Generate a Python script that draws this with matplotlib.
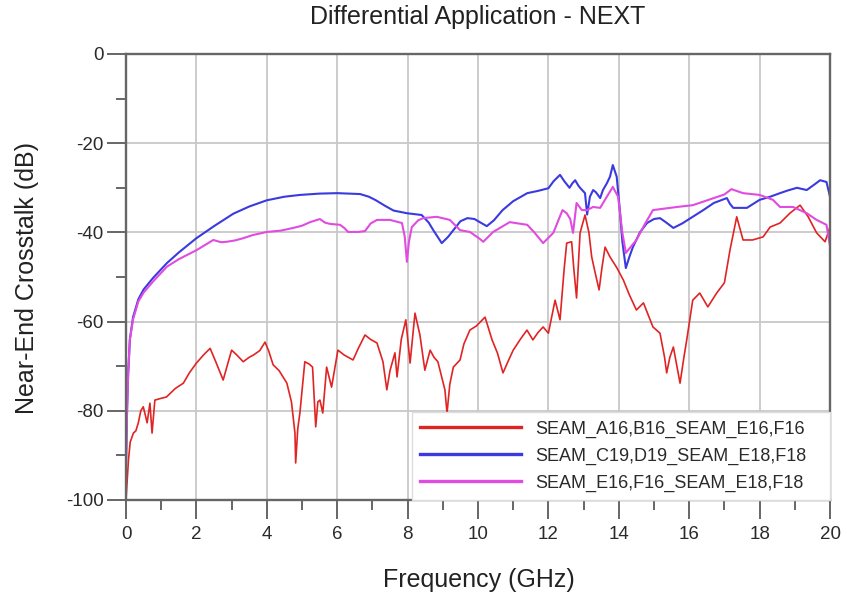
import numpy as np
import matplotlib
matplotlib.use('Agg')
import matplotlib.pyplot as plt

plt.rcParams['font.family'] = ['Liberation Sans', 'DejaVu Sans']
plt.rcParams['axes.unicode_minus'] = False

# (GHz, dB)
red_f = [0.0, 0.03, 0.07, 0.12, 0.21, 0.28, 0.35, 0.42, 0.49, 0.55, 0.6, 0.68, 0.74, 0.82, 1.0, 1.15,
         1.4, 1.63, 1.8, 2.0, 2.2, 2.39, 2.55, 2.76, 3.0, 3.15, 3.33, 3.5, 3.62, 3.8, 3.95, 4.05,
         4.18, 4.35, 4.57, 4.7, 4.8, 4.82, 4.88, 4.94, 5.08, 5.2, 5.3, 5.39, 5.45, 5.51, 5.59, 5.7,
         5.84, 6.02, 6.2, 6.45, 6.6, 6.79, 6.95, 7.13, 7.3, 7.41, 7.5, 7.64, 7.7, 7.82, 7.95, 8.07,
         8.21, 8.35, 8.49, 8.64, 8.75, 8.86, 9.06, 9.12, 9.2, 9.3, 9.49, 9.6, 9.77, 9.95, 10.2, 10.4,
         10.55, 10.71, 10.85, 11.0, 11.2, 11.39, 11.56, 11.7, 11.85, 12.0, 12.19, 12.33, 12.45, 12.52,
         12.66, 12.72, 12.8, 12.9, 13.04, 13.15, 13.23, 13.33, 13.44, 13.52, 13.61, 13.75, 13.95, 14.13,
         14.3, 14.5, 14.7, 14.97, 15.17, 15.3, 15.36, 15.45, 15.55, 15.65, 15.74, 15.85, 15.93, 16.1,
         16.3, 16.53, 16.78, 17.0, 17.16, 17.35, 17.53, 17.8, 18.1, 18.3, 18.58, 18.86, 19.15, 19.38,
         19.62, 19.86, 20.0]
red_db = [-100, -96, -91, -87, -85, -84.5, -82.7, -80, -79.1, -81, -82.7, -78.3, -85, -77.6, -77.2, -76.9,
          -75, -73.8, -71.5, -69.3, -67.5, -66, -69, -73.1, -66.4, -67.5, -69, -68, -67.5, -66.5, -64.6, -66.5,
          -69.7, -71, -73.8, -78, -85, -91.7, -84, -80.5, -69, -69.5, -70.2, -83.6, -78, -77.6, -80.5, -70.2,
          -74.7, -66.4, -67.5, -68.6, -66, -63, -64, -64.8, -69, -75.3, -71, -67, -72.4, -64, -59.6, -69.3,
          -58.1, -63, -70.9, -66.4, -68, -69, -75.3, -80.5, -74, -70.2, -68.6, -65, -61.9, -61, -59, -64.1,
          -67, -71.5, -69, -66.4, -64, -61.9, -64.1, -62.5, -61.2, -62.6, -55.2, -59.6, -48, -42.4,
          -42.1, -48, -54.7, -40.1, -36.1, -40, -45.5, -49.1, -52.9, -48, -43.3, -45.5, -48, -50.7,
          -54, -57.4, -55.8, -61.2, -62.6, -68, -71.5, -68, -65.7, -70, -73.8, -68, -64.1, -55.2,
          -53.6, -56.7, -53.6, -51.3, -43.9, -36.5, -41.7, -41.7, -41.0, -38.8, -37.9, -35.7, -33.9, -36.5,
          -40.1, -42.1, -38.8]

blue_f = [0.0, 0.03, 0.06, 0.11, 0.2, 0.35, 0.5, 0.77, 1.16, 1.5, 2.0, 2.5, 3.05, 3.5, 4.0, 4.5, 4.94,
          5.5, 6.0, 6.65, 6.9, 7.1, 7.35, 7.6, 7.98, 8.4, 8.6, 8.73, 8.97, 9.15, 9.3, 9.5, 9.7, 9.9,
          10.05, 10.25, 10.45, 10.7, 11.0, 11.4, 11.7, 12.0, 12.15, 12.33, 12.45, 12.6, 12.68, 12.76,
          12.85, 12.9, 13.04, 13.1, 13.18, 13.27, 13.35, 13.47, 13.55, 13.66, 13.75, 13.83, 13.94, 14.03,
          14.1, 14.2, 14.3, 14.4, 14.6, 14.8, 15.0, 15.17, 15.35, 15.55, 15.8, 16.1, 16.4, 16.7, 17.07,
          17.15, 17.25, 17.64, 18.0, 18.3, 18.58, 18.8, 19.06, 19.34, 19.55, 19.72, 19.9, 20.0]
blue_db = [-92, -80, -72, -64, -59, -55, -52.8, -50.2, -46.9, -44.5, -41.3, -38.6, -35.8, -34.2, -32.8, -32.0, -31.6,
           -31.3, -31.2, -31.4, -32.0, -32.8, -34, -35.1, -35.7, -36.1, -37.8, -39.5, -42.4, -41, -39.5, -37.5, -36.8, -37,
           -37.7, -38.6, -37.3, -35, -33, -31.2, -30.7, -30.1, -28.5, -27.1, -28.5, -30, -29, -28.3,
           -29.5, -30, -31.2, -36, -32, -30.5, -31, -32.3, -30.5, -29, -27.5, -24.9, -27.5, -35,
           -42, -48, -45.5, -43.3, -40, -37.9, -37, -36.8, -37.8, -39, -38, -36.5, -35, -33.4, -32.3,
           -33.5, -34.5, -34.5, -32.7, -32, -31.2, -30.6, -30, -30.5, -29.3, -28.3, -28.7, -32]

mag_f = [0.0, 0.03, 0.06, 0.11, 0.2, 0.35, 0.5, 0.77, 1.16, 1.5, 2.0, 2.25, 2.48, 2.7, 2.86, 3.1, 3.33,
         3.6, 4.0, 4.4, 4.75, 5.0, 5.23, 5.51, 5.65, 5.8, 6.08, 6.2, 6.31, 6.6, 6.79, 6.95, 7.13, 7.5,
         7.84, 7.92, 7.98, 8.04, 8.12, 8.3, 8.44, 8.83, 9.2, 9.49, 9.77, 10.06, 10.15, 10.43, 10.9, 11.4,
         11.6, 11.85, 12.14, 12.4, 12.52, 12.62, 12.7, 12.8, 12.95, 13.1, 13.27, 13.47, 13.66, 13.83,
         13.98, 14.1, 14.2, 14.5, 14.75, 14.97, 15.65, 16.1, 16.7, 17.0, 17.2, 17.53, 18.0, 18.38, 18.58,
         18.95, 19.34, 19.62, 19.9, 20.0]
mag_db = [-92, -80, -72, -64, -59.5, -55.5, -53.5, -51, -47.7, -46, -44, -42.8, -41.7, -42.2, -42.1, -41.8, -41.3,
          -40.6, -39.9, -39.6, -39.0, -38.5, -37.7, -37.0, -37.8, -38.1, -38.3, -39, -39.9, -39.9, -39.7, -38, -37.2, -37.2,
          -37.9, -41, -46.6, -42, -38.8, -37.3, -36.8, -36.5, -37.2, -39.5, -39.9, -41.5, -42.1, -39.9, -37.7, -38.3,
          -40, -42.4, -40.1, -35, -35.7, -37, -40.1, -33.4, -35, -35, -34.3, -34.5, -32, -29.8,
          -32, -40, -44.6, -41.7, -38, -35, -34.3, -33.9, -32.3, -31.5, -30.3, -31.2, -31.6, -32.7, -34.3,
          -34.3, -35.7, -37.2, -38.3, -43]

labels = ['SEAM_A16,B16_SEAM_E16,F16', 'SEAM_C19,D19_SEAM_E18,F18', 'SEAM_E16,F16_SEAM_E18,F18']
colors = ['#e02424', '#3a3ae0', '#e04ce0']

fig = plt.figure(figsize=(8.47, 5.98), dpi=100)
ax = fig.add_axes([126 / 847, 1 - 500 / 598, 704 / 847, 446 / 598])

ax.plot(red_f, red_db, color=colors[0], lw=1.2, label=labels[0])
ax.plot(blue_f, blue_db, color=colors[1], lw=1.5, label=labels[1])
ax.plot(mag_f, mag_db, color=colors[2], lw=1.5, label=labels[2])

ax.set_xlim(0, 20)
ax.set_ylim(-100, 0)
ax.set_xticks(np.arange(0, 21, 2))
ax.set_xticks(np.arange(1, 20, 2), minor=True)
ax.set_yticks(np.arange(-100, 1, 20))
ax.set_yticks(np.arange(-90, 0, 20), minor=True)
ax.grid(True, which='major', color='#c8c8c8', lw=1.3)
ax.set_axisbelow(True)

for s in ax.spines.values():
    s.set_color('#666666')
    s.set_linewidth(1.7)

ax.tick_params(which='major', direction='out', length=14, width=1.4, color='#666666',
               labelsize=13.5, labelcolor='#2a2a2a')
ax.tick_params(which='minor', direction='out', length=7.5, width=1.4, color='#666666')
ax.tick_params(axis='x', which='major', pad=5)
ax.tick_params(axis='y', which='major', pad=2)

# legend box spans from 412 px to the right spine
leg = ax.legend(loc='lower left', bbox_to_anchor=(286 / 704, 0, 418 / 704, 89 / 446), mode='expand',
                fontsize=13, handlelength=5.6, handletextpad=0.8, labelspacing=0.55, borderpad=0.45,
                fancybox=False, framealpha=1, edgecolor='#dddddd', borderaxespad=0)
for ln in leg.get_lines():
    ln.set_linewidth(2.4)
for t in leg.get_texts():
    t.set_color('#2a2a2a')

fig.text(478 / 847, 1 - 17 / 598, 'Differential Application - NEXT', fontsize=18,
         ha='center', va='center', color='#222222')
fig.text(479 / 847, 1 - 580 / 598, 'Frequency (GHz)', fontsize=18,
         ha='center', va='center', color='#222222')
fig.text(27 / 847, 1 - 278 / 598, 'Near-End Crosstalk (dB)', fontsize=18, rotation=90,
         ha='center', va='center', color='#222222')

fig.savefig('out.png', dpi=100)
